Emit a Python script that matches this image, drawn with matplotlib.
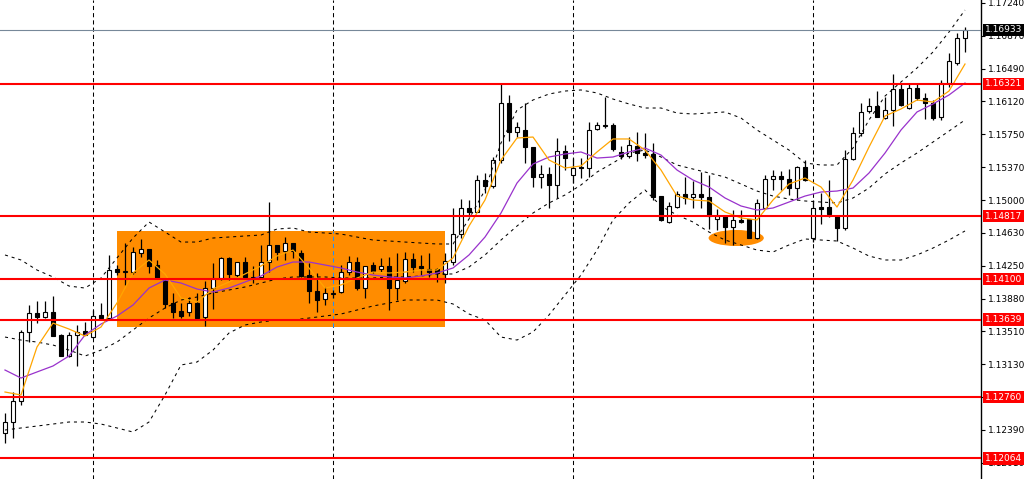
import matplotlib.pyplot as plt
from matplotlib.patches import Rectangle, Ellipse
import numpy as np

plt.rcParams['lines.scale_dashes'] = False
plt.rcParams['font.family'] = ['DejaVu Sans']

# candles, oldest first (prices)

opens = [1.12351, 1.12476, 1.12715, 1.13499, 1.13715, 1.13670, 1.13727, 1.13465, 1.13226, 1.13465,
         1.13511, 1.13442, 1.13693, 1.13658, 1.14215, 1.14181, 1.14176, 1.14398, 1.14443, 1.14261,
         1.14102, 1.13829, 1.13738, 1.13727, 1.13829, 1.13670, 1.13999, 1.14113, 1.14341, 1.14147,
         1.14295, 1.14113, 1.14124, 1.14295, 1.14489, 1.14420, 1.14511, 1.14398, 1.14147, 1.13965,
         1.13875, 1.13935, 1.13954, 1.14181, 1.14295, 1.13999, 1.14261, 1.14215, 1.14250, 1.13999,
         1.14079, 1.14330, 1.14250, 1.14215, 1.14215, 1.14159, 1.14295, 1.14613, 1.14909, 1.14864,
         1.15227, 1.15159, 1.15455, 1.16103, 1.15773, 1.15796, 1.15602, 1.15261, 1.15296, 1.15171,
         1.15557, 1.15284, 1.15379, 1.15364, 1.15807, 1.15847, 1.15853, 1.15551, 1.15506, 1.15614,
         1.15540, 1.15523, 1.15045, 1.14749, 1.14920, 1.15068, 1.15034, 1.15068, 1.15034, 1.14784,
         1.14818, 1.14693, 1.14773, 1.14784, 1.14568, 1.14909, 1.15239, 1.15273, 1.15239, 1.15136,
         1.15375, 1.14568, 1.14920, 1.14920, 1.14818, 1.14682, 1.15466, 1.15762, 1.16012, 1.16069,
         1.15932, 1.16023, 1.16262, 1.16046, 1.16273, 1.16160, 1.16103, 1.15944, 1.16334, 1.16558,
         1.16842]
highs = [1.12578, 1.12817, 1.13522, 1.13806, 1.13852, 1.13852, 1.13908, 1.13477, 1.13499, 1.13579,
         1.13613, 1.13750, 1.13829, 1.14375, 1.14261, 1.14511, 1.14466, 1.14557, 1.14443, 1.14318,
         1.14102, 1.13943, 1.13829, 1.13897, 1.13943, 1.14079, 1.14284, 1.14352, 1.14352, 1.14295,
         1.14352, 1.14250, 1.14489, 1.14977, 1.14489, 1.14579, 1.14511, 1.14432, 1.14284, 1.14170,
         1.14011, 1.13977, 1.14261, 1.14363, 1.14352, 1.14250, 1.14295, 1.14341, 1.14352, 1.14398,
         1.14409, 1.14398, 1.14375, 1.14398, 1.14227, 1.14398, 1.14909, 1.15011, 1.15000, 1.15284,
         1.15307, 1.15489, 1.16330, 1.16194, 1.15887, 1.16103, 1.15602, 1.15398, 1.15375, 1.15705,
         1.15625, 1.15477, 1.15477, 1.15887, 1.15887, 1.16166, 1.15876, 1.15614, 1.15716, 1.15773,
         1.15762, 1.15648, 1.15045, 1.14977, 1.15102, 1.15261, 1.15216, 1.15318, 1.15284, 1.14898,
         1.14818, 1.14886, 1.14886, 1.14784, 1.15011, 1.15284, 1.15341, 1.15330, 1.15352, 1.15387,
         1.15455, 1.15000, 1.15080, 1.15227, 1.14818, 1.15568, 1.15830, 1.16103, 1.16160, 1.16239,
         1.16171, 1.16433, 1.16330, 1.16330, 1.16330, 1.16217, 1.16137, 1.16364, 1.16671, 1.16899,
         1.16970]
lows = [1.12237, 1.12294, 1.12669, 1.13385, 1.13601, 1.13664, 1.13454, 1.13226, 1.13215, 1.13113,
        1.13465, 1.13431, 1.13658, 1.13658, 1.14147, 1.14033, 1.14164, 1.14352, 1.14170, 1.14113,
        1.13772, 1.13658, 1.13658, 1.13681, 1.13658, 1.13567, 1.13761, 1.14090, 1.14090, 1.14113,
        1.14113, 1.14056, 1.14113, 1.14181, 1.14318, 1.14318, 1.14341, 1.14124, 1.13829, 1.13727,
        1.13806, 1.13886, 1.13943, 1.14147, 1.13977, 1.13886, 1.14170, 1.14181, 1.13749, 1.13863,
        1.14056, 1.14181, 1.14147, 1.14124, 1.14068, 1.14056, 1.14261, 1.14568, 1.14807, 1.14864,
        1.15080, 1.15136, 1.15421, 1.15671, 1.15716, 1.15421, 1.15148, 1.15136, 1.14909, 1.15023,
        1.15341, 1.15193, 1.15250, 1.15261, 1.15796, 1.15819, 1.15557, 1.15466, 1.15477, 1.15443,
        1.15477, 1.15000, 1.14761, 1.14738, 1.14909, 1.14955, 1.14909, 1.14909, 1.14670, 1.14658,
        1.14511, 1.14489, 1.14738, 1.14568, 1.14562, 1.14898, 1.15114, 1.15114, 1.15057, 1.15000,
        1.15216, 1.14523, 1.14727, 1.14807, 1.14534, 1.14659, 1.15455, 1.15728, 1.15989, 1.15944,
        1.15921, 1.15841, 1.16069, 1.16035, 1.16137, 1.15921, 1.15910, 1.15910, 1.16285, 1.16535,
        1.16683]
closes = [1.12476, 1.12715, 1.13499, 1.13715, 1.13670, 1.13727, 1.13454, 1.13226, 1.13465, 1.13499,
          1.13465, 1.13681, 1.13658, 1.14204, 1.14181, 1.14193, 1.14409, 1.14443, 1.14250, 1.14113,
          1.13818, 1.13727, 1.13681, 1.13829, 1.13658, 1.13999, 1.14107, 1.14341, 1.14159, 1.14295,
          1.14124, 1.14130, 1.14295, 1.14489, 1.14409, 1.14511, 1.14420, 1.14136, 1.13965, 1.13863,
          1.13943, 1.13940, 1.14181, 1.14295, 1.13999, 1.14250, 1.14193, 1.14250, 1.13999, 1.14090,
          1.14330, 1.14238, 1.14227, 1.14181, 1.14170, 1.14307, 1.14613, 1.14909, 1.14864, 1.15227,
          1.15159, 1.15455, 1.16103, 1.15773, 1.15830, 1.15602, 1.15261, 1.15296, 1.15171, 1.15557,
          1.15477, 1.15364, 1.15360, 1.15796, 1.15853, 1.15853, 1.15580, 1.15500, 1.15620, 1.15534,
          1.15517, 1.15034, 1.14773, 1.14932, 1.15068, 1.15023, 1.15068, 1.15034, 1.14818, 1.14818,
          1.14693, 1.14773, 1.14750, 1.14568, 1.14966, 1.15239, 1.15273, 1.15239, 1.15136, 1.15375,
          1.15227, 1.14909, 1.14898, 1.14841, 1.14682, 1.15466, 1.15762, 1.16001, 1.16069, 1.15944,
          1.16023, 1.16262, 1.16080, 1.16273, 1.16160, 1.16103, 1.15932, 1.16330, 1.16580, 1.16842,
          1.16933]

# indicator values read every second bar

ind_bars = list(range(0, 121, 2))
bb_upper = [1.14375, 1.14318, 1.14204, 1.14125, 1.14022, 1.13999, 1.14113, 1.14341, 1.14568, 1.14750,
            1.14636, 1.14522, 1.14522, 1.14568, 1.14579, 1.14591, 1.14602, 1.14670, 1.14682, 1.14636,
            1.14625, 1.14613, 1.14579, 1.14545, 1.14534, 1.14522, 1.14511, 1.14500, 1.14500, 1.14784,
            1.15114, 1.15648, 1.16023, 1.16137, 1.16205, 1.16239, 1.16251, 1.16217, 1.16148, 1.16092,
            1.16046, 1.16046, 1.15989, 1.15978, 1.15989, 1.16001, 1.15932, 1.15796, 1.15682, 1.15568,
            1.15421, 1.15398, 1.15398, 1.15591, 1.15910, 1.16182, 1.16342, 1.16501, 1.16683, 1.16910,
            1.17160]
bb_middle = [1.13442, 1.13408, 1.13385, 1.13351, 1.13294, 1.13226, 1.13294, 1.13385, 1.13522, 1.13658,
             1.13772, 1.13863, 1.13897, 1.13943, 1.13977, 1.14011, 1.14056, 1.14102, 1.14125, 1.14125,
             1.14125, 1.14113, 1.14113, 1.14113, 1.14125, 1.14125, 1.14136, 1.14159, 1.14159, 1.14238,
             1.14375, 1.14545, 1.14704, 1.14852, 1.14966, 1.15057, 1.15171, 1.15318, 1.15421, 1.15534,
             1.15568, 1.15489, 1.15398, 1.15352, 1.15307, 1.15261, 1.15182, 1.15102, 1.15045, 1.15011,
             1.14989, 1.14977, 1.14966, 1.15023, 1.15136, 1.15296, 1.15421, 1.15534, 1.15659, 1.15784,
             1.15910]
bb_lower = [1.12385, 1.12408, 1.12430, 1.12453, 1.12476, 1.12476, 1.12453, 1.12408, 1.12362, 1.12476,
            1.12783, 1.13124, 1.13158, 1.13294, 1.13488, 1.13579, 1.13613, 1.13636, 1.13636, 1.13658,
            1.13681, 1.13704, 1.13749, 1.13795, 1.13829, 1.13863, 1.13863, 1.13863, 1.13818, 1.13704,
            1.13636, 1.13442, 1.13408, 1.13499, 1.13693, 1.13920, 1.14147, 1.14431, 1.14773, 1.14966,
            1.15114, 1.14932, 1.14829, 1.14750, 1.14636, 1.14545, 1.14489, 1.14431, 1.14409, 1.14489,
            1.14557, 1.14545, 1.14534, 1.14454, 1.14363, 1.14318, 1.14318, 1.14375, 1.14454, 1.14545,
            1.14648]
ma_fast = [1.12817, 1.12783, 1.13329, 1.13601, 1.13533, 1.13454, 1.13556, 1.13829, 1.14170, 1.14318,
           1.14159, 1.13886, 1.13840, 1.13988, 1.14068, 1.14159, 1.14250, 1.14363, 1.14431, 1.14227,
           1.13999, 1.14034, 1.14113, 1.14181, 1.14170, 1.14181, 1.14204, 1.14204, 1.14341, 1.14704,
           1.15000, 1.15455, 1.15705, 1.15716, 1.15455, 1.15364, 1.15387, 1.15546, 1.15694, 1.15694,
           1.15568, 1.15341, 1.15045, 1.15000, 1.14989, 1.14864, 1.14796, 1.14773, 1.15000, 1.15182,
           1.15250, 1.15148, 1.14920, 1.15227, 1.15602, 1.15955, 1.16035, 1.16137, 1.16114, 1.16239,
           1.16546]
ma_slow = [1.13067, 1.12976, 1.13045, 1.13113, 1.13226, 1.13465, 1.13590, 1.13681, 1.13806, 1.13999,
           1.14090, 1.14056, 1.13988, 1.13954, 1.13999, 1.14068, 1.14136, 1.14238, 1.14295, 1.14295,
           1.14261, 1.14227, 1.14181, 1.14147, 1.14125, 1.14113, 1.14136, 1.14170, 1.14227, 1.14375,
           1.14579, 1.14852, 1.15193, 1.15409, 1.15489, 1.15523, 1.15546, 1.15477, 1.15489, 1.15546,
           1.15591, 1.15511, 1.15341, 1.15227, 1.15148, 1.15023, 1.14932, 1.14886, 1.14909, 1.14977,
           1.15045, 1.15091, 1.15102, 1.15136, 1.15307, 1.15534, 1.15796, 1.16001, 1.16092, 1.16194,
           1.16330]

# horizontal levels, price line, price scale and drawn objects

levels = [1.16321, 1.14817, 1.14100, 1.13639, 1.12760, 1.12064]
last_price = 1.16933
scale_ticks = [1.17240, 1.16870, 1.16490, 1.16120, 1.15750, 1.15370, 1.15000, 1.14630,
               1.14250, 1.13880, 1.13510, 1.13130, 1.12760, 1.12390, 1.12010]
grid_bars = [11, 41, 71, 101]
box_bars = (14, 55)
box_prices = (1.13556, 1.14648)
oval_bar = 91.4
oval_price = 1.14568

bars = np.arange(len(closes))
o = np.array(opens)
c = np.array(closes)
up = c >= o

fig = plt.figure(figsize=(10.30, 4.79), dpi=100)
ax = fig.add_axes([0, 0, 981 / 1030, 1])
ax.set_xlim(-0.625, 122)
ax.set_ylim(1.11828, 1.17274)

# grid, rectangle and oval drawn as background objects

for g in grid_bars:
  ax.axvline(g, color='black', lw=0.75, ls=(0, (3, 2.2)), zorder=0.5)
ax.add_patch(Rectangle((box_bars[0], box_prices[0]), box_bars[1] - box_bars[0], box_prices[1] - box_prices[0],
                       facecolor='#ff8c00', edgecolor='none', zorder=1))
for g in grid_bars:
  if box_bars[0] < g < box_bars[1]:
    ax.vlines(g, box_prices[0], box_prices[1], color='#1e90ff', lw=0.75, ls=(0, (3, 2.2)), zorder=1.1)
ax.add_patch(Ellipse((oval_bar, oval_price), 6.9, 0.00182, facecolor='#ff8c00', edgecolor='none', zorder=1))

# candles

ax.vlines(bars, lows, highs, color='black', lw=0.9, zorder=3)
ax.bar(bars, np.abs(c - o), bottom=np.minimum(o, c), width=0.62,
       color=np.where(up, 'white', 'black'), edgecolor='black', linewidth=0.8, zorder=3.1)

# bollinger bands and moving averages

for band in [bb_upper, bb_middle, bb_lower]:
  ax.plot(ind_bars, band, color='black', lw=0.75, ls=(0, (2.2, 2.8)), zorder=3.5)
ax.plot(ind_bars, ma_slow, color='#9932cc', lw=0.9, zorder=3.6)
ax.plot(ind_bars, ma_fast, color='#ffa500', lw=0.9, zorder=3.7)

# levels with their labels on the price scale

ax.axhline(last_price, color='#778899', lw=0.8, zorder=3.8)
for level in levels:
  ax.axhline(level, color='red', lw=1.5, zorder=4)
  ax.text(1.004, level, '%.5f' % level, transform=ax.get_yaxis_transform(), color='white', fontsize=6.5,
          va='center', ha='left', clip_on=False, zorder=5,
          bbox=dict(boxstyle='square,pad=0.2', facecolor='red', edgecolor='none'))
ax.text(1.004, last_price, '%.5f' % last_price, transform=ax.get_yaxis_transform(), color='white', fontsize=6.5,
        va='center', ha='left', clip_on=False, zorder=5,
        bbox=dict(boxstyle='square,pad=0.2', facecolor='black', edgecolor='none'))

# scale labels; a level label already shows the value where both coincide

ax.set_xticks([])
ax.yaxis.tick_right()
ax.set_yticks(scale_ticks)
ax.set_yticklabels(['' if t in levels else '%.5f' % t for t in scale_ticks])
ax.tick_params(axis='y', direction='out', length=3, width=0.8, labelsize=6.5, pad=2, colors='black')
for side in ['left', 'top', 'bottom']:
  ax.spines[side].set_visible(False)
ax.spines['right'].set_color('black')
ax.spines['right'].set_linewidth(1)

fig.savefig('out.png', dpi=100)
